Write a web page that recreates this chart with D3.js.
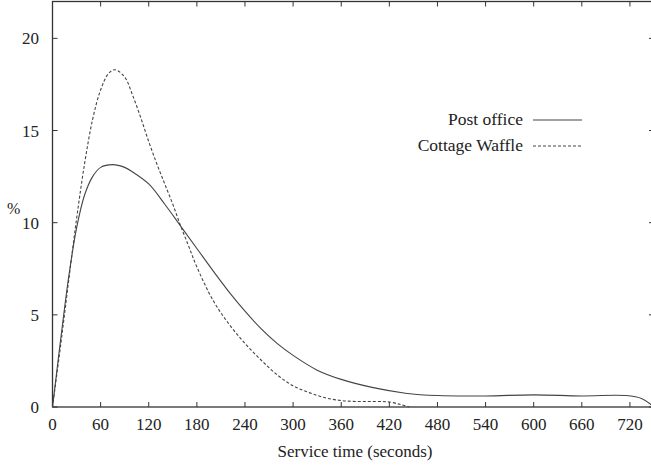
<!DOCTYPE html>
<html lang="en">
<head>
<meta charset="UTF-8" />
<title>Service time distribution</title>
<style>
  body { margin: 0; background: #fff; }
  svg { display: block; font-family: "Liberation Serif", "DejaVu Serif", serif; }
</style>
</head>
<body>
<div id="chart"></div>
<script src="https://d3js.org/d3.v7.min.js"></script>
<script>
  // Post office service-time distribution
  const postTimes = [0, 10, 20, 30, 40, 50, 60, 75, 90, 100, 120, 140, 160, 180, 200, 220, 240, 260, 280, 300, 330, 360, 400, 440, 480, 540, 600, 660, 715, 735, 750];
  const postValues = [0, 3.6, 7.0, 9.7, 11.5, 12.5, 13.0, 13.15, 13.0, 12.75, 12.1, 11.0, 9.8, 8.6, 7.4, 6.25, 5.2, 4.25, 3.45, 2.8, 2.0, 1.5, 1.05, 0.75, 0.62, 0.6, 0.66, 0.6, 0.62, 0.45, 0];

  // Cottage Waffle service-time distribution
  const waffleTimes = [0, 10, 20, 30, 40, 50, 60, 70, 78, 90, 100, 110, 120, 130, 140, 150, 160, 170, 180, 200, 220, 240, 260, 280, 300, 320, 340, 360, 380, 400, 420, 435, 445];
  const waffleValues = [0, 3.3, 6.8, 10.2, 13.2, 15.6, 17.2, 18.1, 18.3, 17.9, 16.9, 15.7, 14.4, 13.2, 12.1, 11.0, 9.8, 8.7, 7.6, 5.8, 4.5, 3.45, 2.55, 1.75, 1.15, 0.78, 0.5, 0.35, 0.3, 0.3, 0.27, 0.12, 0];

  const xTicks = [0, 60, 120, 180, 240, 300, 360, 420, 480, 540, 600, 660, 720];
  const yTicks = [0, 5, 10, 15, 20];
  const seriesNames = ["Post office", "Cottage Waffle"];

  const width = 651, height = 466;
  const x = d3.scaleLinear().domain([0, 750]).range([52.5, 654]);
  const y = d3.scaleLinear().domain([0, 22]).range([407, 1.5]);

  const svg = d3.select("#chart").append("svg")
    .attr("width", width)
    .attr("height", height);

  const ink = "#333";
  const tickLen = 5;

  // frame
  svg.append("rect")
    .attr("x", x(0)).attr("y", y(22))
    .attr("width", x(750) - x(0)).attr("height", y(0) - y(22))
    .attr("fill", "none").attr("stroke", ink).attr("stroke-width", 1.3);

  // x ticks, bottom and mirrored on top
  const xt = svg.append("g").attr("stroke", ink).attr("stroke-width", 1);
  xTicks.forEach(t => {
    xt.append("line").attr("x1", x(t)).attr("x2", x(t)).attr("y1", y(0)).attr("y2", y(0) - tickLen);
    xt.append("line").attr("x1", x(t)).attr("x2", x(t)).attr("y1", y(22)).attr("y2", y(22) + tickLen);
  });
  svg.append("g").selectAll("text").data(xTicks).join("text")
    .attr("x", d => x(d)).attr("y", 430)
    .attr("text-anchor", "middle")
    .attr("font-size", 17).attr("fill", "#222")
    .text(d => d);

  // y ticks, left and mirrored on right
  const yt = svg.append("g").attr("stroke", ink).attr("stroke-width", 1);
  yTicks.forEach(t => {
    yt.append("line").attr("x1", x(0)).attr("x2", x(0) + tickLen).attr("y1", y(t)).attr("y2", y(t));
    yt.append("line").attr("x1", x(750)).attr("x2", x(750) - tickLen).attr("y1", y(t)).attr("y2", y(t));
  });
  svg.append("g").selectAll("text").data(yTicks).join("text")
    .attr("x", 39).attr("y", d => y(d) + 6)
    .attr("text-anchor", "end")
    .attr("font-size", 17).attr("fill", "#222")
    .text(d => d);

  // axis titles
  svg.append("text").attr("x", 355).attr("y", 457)
    .attr("text-anchor", "middle").attr("font-size", 17).attr("fill", "#222")
    .text("Service time (seconds)");
  svg.append("text").attr("x", 7).attr("y", 214)
    .attr("font-size", 16).attr("fill", "#222")
    .text("%");

  const line = d3.line()
    .x(d => x(d[0]))
    .y(d => y(d[1]))
    .curve(d3.curveCatmullRom.alpha(0.5));

  const postData = d3.zip(postTimes, postValues);
  const waffleData = d3.zip(waffleTimes, waffleValues);

  svg.append("path").datum(postData)
    .attr("d", line).attr("fill", "none")
    .attr("stroke", "#444").attr("stroke-width", 1.1);
  svg.append("path").datum(waffleData)
    .attr("d", line).attr("fill", "none")
    .attr("stroke", "#444").attr("stroke-width", 1.1)
    .attr("stroke-dasharray", "3,2");

  // legend
  const legend = svg.append("g");
  seriesNames.forEach((name, i) => {
    const ly = 120 + i * 26;
    legend.append("text").attr("x", 523).attr("y", ly + 5)
      .attr("text-anchor", "end").attr("font-size", 17.5).attr("fill", "#222")
      .text(name);
    legend.append("line").attr("x1", 533).attr("x2", 582).attr("y1", ly).attr("y2", ly)
      .attr("stroke", "#444").attr("stroke-width", 1.1)
      .attr("stroke-dasharray", i === 1 ? "3,2" : null);
  });
</script>
</body>
</html>
